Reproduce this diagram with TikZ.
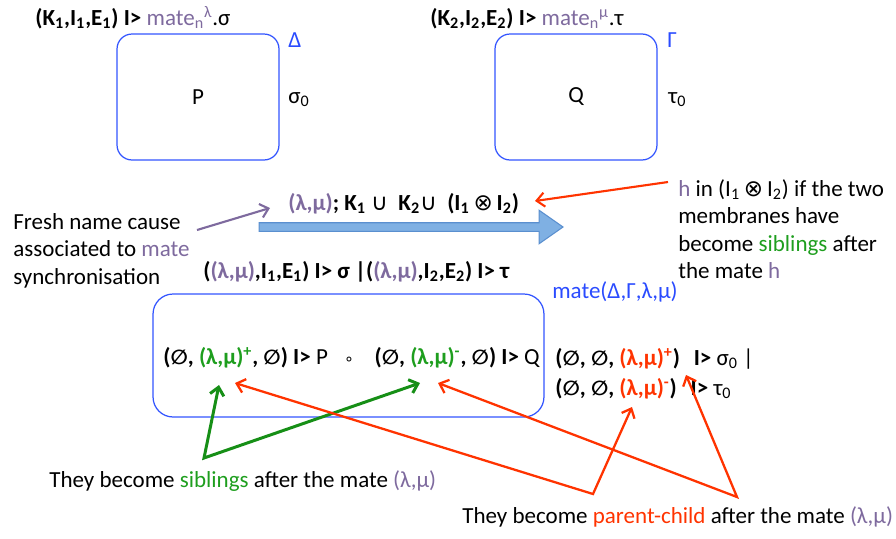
\documentclass[tikz,border=0pt]{standalone}
\usepackage{fontspec}
\setmainfont{Carlito}
\newfontfamily\symf{DejaVu Sans}
\newfontfamily\esymf[Scale=0.88]{DejaVu Sans}
\usetikzlibrary{arrows.meta, shapes.arrows}
\usepackage{xcolor}
\definecolor{mpurple}{HTML}{7E6A9E}
\definecolor{sgreen}{HTML}{1E9E1E}
\definecolor{agreen}{HTML}{168F16}
\definecolor{pred}{HTML}{FF3300}
\definecolor{mblue}{HTML}{3355FF}
\definecolor{tblue}{HTML}{2A4BFF}
\definecolor{afill}{HTML}{7FB0E3}
\definecolor{aline}{HTML}{5A8FCF}
\newcommand{\esym}{{\esymf ∅}}
\newcommand{\usym}{{\symf\mdseries ∪}}
\newcommand{\osym}{{\symf\mdseries ⊗}}
\newcommand{\csym}{{\symf\mdseries\small ∘}}
\newcommand{\lm}{(λ,μ)}
\newcommand{\lo}[1]{\textsubscript{#1}}
\newcommand{\hi}[1]{\textsuperscript{#1}}

\begin{document}
\begin{tikzpicture}[
  x=0.02cm, y=-0.02cm,
  txt/.style={font=\fontsize{13.1}{15.6}\selectfont, inner sep=0pt},
  membrane/.style={draw=mblue, rounded corners=0.3cm, line width=0.7pt,
                   font=\fontsize{13.1}{15.6}\selectfont, inner sep=0pt},
  bigarrow/.style={single arrow, draw=aline, fill=afill, line width=0.6pt,
                   inner xsep=0pt, inner ysep=0.075cm, minimum width=0.34cm,
                   single arrow tip angle=70},
  sibarr/.style={{Straight Barb[length=4.5pt, width=8pt]}-{Straight Barb[length=4.5pt, width=8pt]},
                 draw=agreen, line width=1.7pt},
  pcarr/.style={{Straight Barb[length=4.5pt, width=8pt]}-{Straight Barb[length=4.5pt, width=8pt]},
                draw=pred, line width=1.3pt},
  causearr/.style={-{Straight Barb[length=4.5pt, width=8pt]}, draw=mpurple, line width=1.2pt},
  harr/.style={-{Straight Barb[length=4.5pt, width=8pt]}, draw=pred, line width=1.2pt}]
  \useasboundingbox (0,0) rectangle (896,538);

  \node[txt, anchor=base west] (headP) at (35,25)
    {\textbf{(K\lo1,I\lo1,E\lo1) I>} {\color{mpurple}mate\lo{n}\hi{λ}}.σ};
  \node[membrane, minimum width=3.24cm, minimum height=2.52cm] (boxP) at (198,97) {P};
  \node[txt, anchor=base west, text=tblue] (delta) at (288,47) {Δ};
  \node[txt, anchor=base west] (sigzero) at (288,103) {σ\lo0};

  \node[txt, anchor=base west] (headQ) at (430,25)
    {\textbf{(K\lo2,I\lo2,E\lo2) I>} {\color{mpurple}mate\lo{n}\hi{μ}}.τ};
  \node[membrane, minimum width=3.24cm, minimum height=2.52cm] (boxQ) at (576,97) {Q};
  \node[txt, anchor=base west, text=tblue] (gamma) at (667,47) {Γ};
  \node[txt, anchor=base west] (tauzero) at (668,103) {τ\lo0};

  \node[txt, anchor=base west] (union) at (288,210)
    {\textbf{{\color{mpurple}\lm}; K\lo1 \usym\ \ K\lo2\usym\ \ (I\lo1\,\osym\,I\lo2)}};
  \node[bigarrow, minimum height=6.08cm] (trans) at (408,227) {};

  \node[txt, anchor=north west, align=left] (fresh) at (13,213)
    {Fresh name cause\\associated to {\color{mpurple}mate}\\synchronisation};
  \node[txt, anchor=north west, align=left] (hnote) at (678,179)
    {{\color{mpurple}h} in (I\lo1\,\osym\,I\lo2) if the two\\membranes have\\become {\color{sgreen}siblings} after\\the mate {\color{mpurple}h}};

  \node[txt, anchor=base west] (restr) at (203,278)
    {\textbf{({\color{mpurple}\lm},I\lo1,E\lo1) I> σ |({\color{mpurple}\lm},I\lo2,E\lo2) I> τ}};
  \node[txt, anchor=base west, text=tblue] (matelab) at (552,298) {mate(Δ,Γ,λ,μ)};

  \node[membrane, rounded corners=0.4cm, minimum width=7.82cm, minimum height=2.46cm] (outer) at (348.5,355.5) {};
  \node[txt, anchor=base west] (inner) at (163,364)
    {\textbf{(\esym, {\color{sgreen}\lm\hi{+}}, \esym) I>} P\hspace{0.7em}\csym\hspace{0.9em}\textbf{(\esym, {\color{sgreen}\lm\hi{-}}, \esym) I>} Q};
  \node[txt, anchor=base west] (pcone) at (555,365)
    {\textbf{(\esym, \esym, {\color{pred}\lm\hi{+}})\hspace{0.6em}I>} σ\lo0 |};
  \node[txt, anchor=base west] (pctwo) at (555,395)
    {\textbf{(\esym, \esym, {\color{pred}\lm\hi{-}})\hspace{0.6em}I>} τ\lo0};

  \node[txt, anchor=base west] (siblab) at (49,487)
    {They become {\color{sgreen}siblings} after the mate {\color{mpurple}\lm}};
  \node[txt, anchor=base west] (pclab) at (462,523)
    {They become {\color{pred}parent-child} after the mate {\color{mpurple}\lm}};

  \coordinate (causetail) at (197,230);
  \coordinate (causetip) at (270,208);
  \coordinate (htail) at (668,182);
  \coordinate (htip) at (535,201);
  \coordinate (sibapex) at (204,458);
  \coordinate (plustip) at (219,385);
  \coordinate (minustip) at (420,383);
  \coordinate (pcapexA) at (593,494);
  \coordinate (pplustip) at (235,383);
  \coordinate (rminustip) at (632,407);
  \coordinate (pcapexB) at (737,497);
  \coordinate (pminustip) at (438,383);
  \coordinate (rplustip) at (686,375);

  \draw[causearr] (causetail) -- (causetip);
  \draw[harr] (htail) -- (htip);
  \draw[sibarr] (plustip) -- (sibapex) -- (minustip);
  \draw[pcarr] (pplustip) -- (pcapexA) -- (rminustip);
  \draw[pcarr] (pminustip) -- (pcapexB) -- (rplustip);
\end{tikzpicture}
\end{document}
